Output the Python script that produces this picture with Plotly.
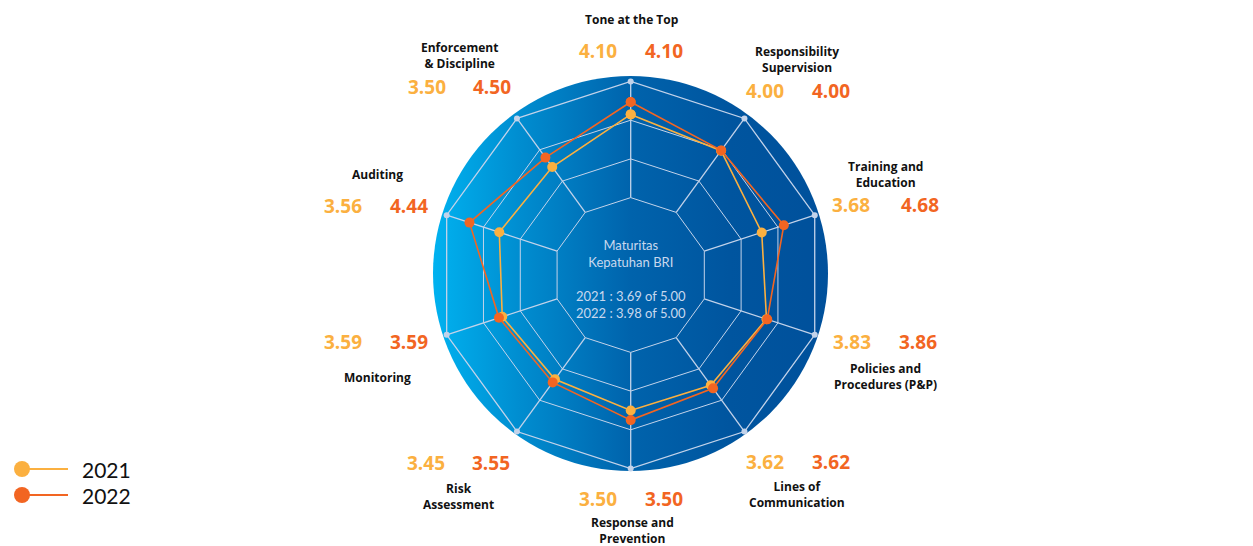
import base64
import plotly.graph_objects as go

# categories (clockwise from the top)
categories = ['Tone at the Top', 'Responsibility Supervision', 'Training and Education',
              'Policies and Procedures (P&P)', 'Lines of Communication', 'Response and Prevention',
              'Risk Assessment', 'Monitoring', 'Auditing', 'Enforcement & Discipline']

# plotted positions
r_2021 = [4.15, 3.97, 3.56, 3.69, 3.52, 3.50, 3.33, 3.49, 3.57, 3.45]
r_2022 = [4.47, 3.98, 4.16, 3.71, 3.62, 3.75, 3.43, 3.58, 4.38, 3.75]

# printed scores next to each axis
score_2021 = ['4.10', '4.00', '3.68', '3.83', '3.62', '3.50', '3.45', '3.59', '3.56', '3.50']
score_2022 = ['4.10', '4.00', '4.68', '3.86', '3.62', '3.50', '3.55', '3.59', '4.44', '4.50']

label_text = ['Tone at the Top', 'Responsibility<br>Supervision', 'Training and<br>Education',
              'Policies and<br>Procedures (P&P)', 'Lines of<br>Communication', 'Response and<br>Prevention',
              'Risk<br>Assessment', 'Monitoring', 'Auditing', 'Enforcement<br>& Discipline']

years = ['2021', '2022']
avg_scores = ['3.69', '3.98']

# the page body keeps its default 8px margin, so the figure is drawn 8px in
PAD = 8
W, H = 1253 - PAD, 546 - PAD
C2021 = '#FBB040'
C2022 = '#F26522'
GRID = '#C3D3EA'

# label layout in page pixels: title centre, score row
title_pos = [(632, 20), (797, 60), (885, 175), (885, 376), (797, 494),
             (632, 530), (458, 496), (377, 377), (377, 175), (459, 55)]
score_y = [51, 91, 205, 342, 462, 499, 463, 342, 206, 87]
score_x = [(598, 664), (765, 831), (851, 920), (852, 918), (765, 831),
           (598, 664), (426, 491), (343, 409), (343, 409), (427, 492)]


def px(x, y):
    return (x - PAD) / W, 1 - (y - PAD) / H


fig = go.Figure()

# spokes from the inner ring outwards
sp_r, sp_t = [], []
for c in categories:
    sp_r += [2, 5, None]
    sp_t += [c, c, None]
fig.add_trace(go.Scatterpolar(r=sp_r, theta=sp_t, mode='lines', connectgaps=False,
                              line=dict(color=GRID, width=1.3), hoverinfo='skip', showlegend=False))
fig.add_trace(go.Scatterpolar(r=[5] * len(categories), theta=categories, mode='markers',
                              marker=dict(color=GRID, size=6), hoverinfo='skip', showlegend=False))

for name, vals, col in [('2021', r_2021, C2021), ('2022', r_2022, C2022)]:
    fig.add_trace(go.Scatterpolar(
        r=vals + vals[:1], theta=categories + categories[:1], name=name,
        mode='lines+markers', line=dict(color=col, width=1.6),
        marker=dict(color=col, size=10), showlegend=False))

cx, cy, rad = 630.7, 275, 193.5
x0, y0 = px(cx - rad, cy + rad)
x1, y1 = px(cx + rad, cy - rad)
fig.update_layout(
    width=W, height=H,
    margin=dict(l=0, r=0, t=0, b=0),
    paper_bgcolor='white',
    polar=dict(
        domain=dict(x=[x0, x1], y=[y0, y1]),
        bgcolor='rgba(0,0,0,0)',
        gridshape='linear',
        radialaxis=dict(range=[0, 5], tickvals=[2, 3, 4, 5], showticklabels=False, ticks='',
                        showline=False, gridcolor=GRID, gridwidth=1.3),
        angularaxis=dict(direction='clockwise', rotation=90, showticklabels=False, ticks='',
                         showgrid=False, showline=True, linecolor=GRID, linewidth=1.3),
    ),
)

# gradient disc behind the radar
svg = ('<svg xmlns="http://www.w3.org/2000/svg" width="400" height="400" viewBox="0 0 400 400">'
       '<defs><linearGradient id="g" x1="0" y1="0" x2="1" y2="0">'
       '<stop offset="0" stop-color="#00B2F0"/><stop offset="0.22" stop-color="#008DD0"/>'
       '<stop offset="0.5" stop-color="#0063AC"/><stop offset="0.75" stop-color="#00559F"/>'
       '<stop offset="1" stop-color="#00509B"/></linearGradient></defs>'
       '<circle cx="200" cy="200" r="200" fill="url(#g)"/></svg>')
src = 'data:image/svg+xml;base64,' + base64.b64encode(svg.encode()).decode()
bx, by, br = 630.5, 273.5, 197.5
ix, iy = px(bx - br, by - br)
fig.add_layout_image(dict(source=src, xref='paper', yref='paper', x=ix, y=iy,
                          sizex=2 * br / W, sizey=2 * br / H, xanchor='left', yanchor='top',
                          sizing='stretch', layer='below'))

for i in range(len(categories)):
    x, y = px(*title_pos[i])
    fig.add_annotation(x=x, y=y, xref='paper', yref='paper', text='<b>' + label_text[i] + '</b>',
                       showarrow=False, font=dict(family='Open Sans', size=12, color='#111111'),
                       align='center', xanchor='center', yanchor='middle')
    for sx, s, col in [(score_x[i][0], score_2021[i], C2021), (score_x[i][1], score_2022[i], C2022)]:
        x, y = px(sx, score_y[i])
        fig.add_annotation(x=x, y=y, xref='paper', yref='paper', text='<b>' + s + '</b>',
                           showarrow=False, font=dict(family='Open Sans', size=19, color=col),
                           xanchor='center', yanchor='middle')

# centre text
centre = 'Maturitas<br>Kepatuhan BRI<br><br>' + '<br>'.join(
    f'{y} : {a} of 5.00' for y, a in zip(years, avg_scores))
x, y = px(630.5, 279)
fig.add_annotation(x=x, y=y, xref='paper', yref='paper', text=centre, showarrow=False,
                   font=dict(family='Lato', size=13, color='#C8D8EE'), align='center',
                   xanchor='center', yanchor='middle')

# hand-drawn legend
for yr, col, ly in [(years[0], C2021, 469), (years[1], C2022, 495)]:
    lx0, ly0 = px(22, ly)
    lx1, _ = px(68, ly)
    fig.add_shape(type='line', xref='paper', yref='paper', x0=lx0, x1=lx1, y0=ly0, y1=ly0,
                  line=dict(color=col, width=2))
    cx0, cy0 = px(14, ly + 8)
    cx1, cy1 = px(30, ly - 8)
    fig.add_shape(type='circle', xref='paper', yref='paper', x0=cx0, x1=cx1, y0=cy0, y1=cy1,
                  fillcolor=col, line=dict(width=0))
    x, y = px(80, ly)
    fig.add_annotation(x=x, y=y, xref='paper', yref='paper', text=yr, showarrow=False,
                       font=dict(family='Lato', size=21, color='#111111'), xanchor='left', yanchor='middle')

fig.write_html('out.html')
